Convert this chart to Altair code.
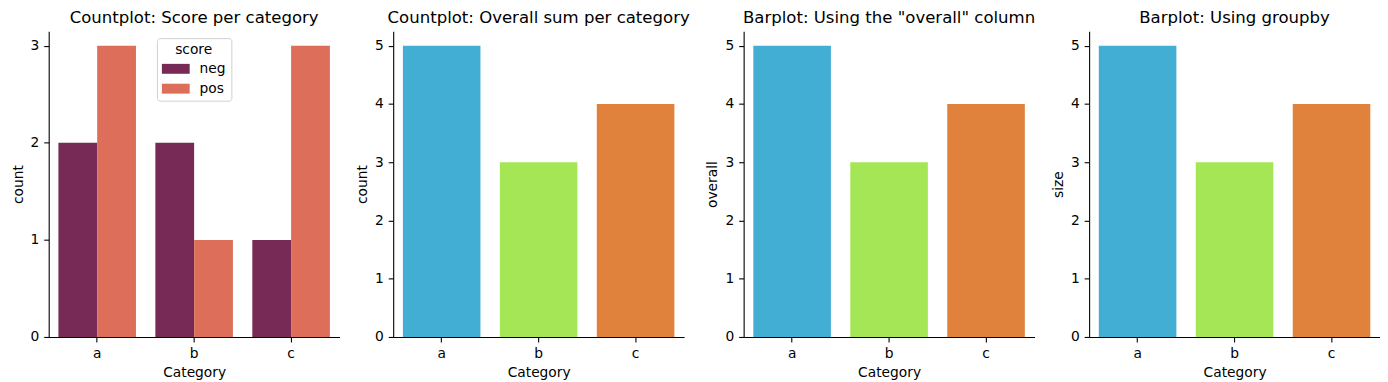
import altair as alt
import pandas as pd

categories = ["a", "b", "c"]
scores = ["neg", "pos"]
neg_counts = [2, 2, 1]
pos_counts = [3, 1, 3]
overall_sum = [5, 3, 4]
group_size = [5, 3, 4]

score_colors = ["#782A56", "#DD6E5A"]
cat_colors = ["#42AED4", "#A4E655", "#E0823B"]

FONT = "DejaVu Sans"
W, H = 293, 308

df1 = pd.DataFrame({
    "Category": categories * 2,
    "score": ["neg"] * 3 + ["pos"] * 3,
    "count": neg_counts + pos_counts,
})
df2 = pd.DataFrame({"Category": categories, "count": overall_sum})
df3 = pd.DataFrame({"Category": categories, "overall": overall_sum})
df4 = pd.DataFrame({"Category": categories, "size": group_size})

xband = alt.Scale(domain=categories, paddingInner=0.2, paddingOuter=0.1)

p1 = alt.Chart(df1).mark_bar().encode(
    x=alt.X("Category:N", scale=xband, axis=alt.Axis(labelAngle=0, title="Category")),
    xOffset=alt.XOffset("score:N", scale=alt.Scale(domain=scores, paddingInner=0, paddingOuter=0)),
    y=alt.Y("count:Q", scale=alt.Scale(domain=[0, 3.15], nice=False),
            axis=alt.Axis(values=[0, 1, 2, 3], title="count")),
    color=alt.Color("score:N", scale=alt.Scale(domain=scores, range=score_colors),
                    legend=alt.Legend(
                        orient="none", legendX=109, legendY=7, title="score",
                        titleAnchor="middle", titleFontWeight="normal",
                        titleFontSize=13.9, titleFont=FONT, titleColor="black",
                        labelFontSize=13.9, labelFont=FONT, labelColor="black",
                        symbolType="M-1,-0.714L3,-0.714L3,0.714L-1,0.714Z",
                        symbolSize=196, symbolStrokeWidth=0, labelOffset=24,
                        fillColor="white", strokeColor="#d0d0d0", cornerRadius=3,
                        padding=5, rowPadding=6, titlePadding=5,
                    )),
).properties(width=W, height=H, title="Countplot: Score per category")


def simple(df, field, title):
    return alt.Chart(df).mark_bar().encode(
        x=alt.X("Category:N", scale=xband, axis=alt.Axis(labelAngle=0, title="Category")),
        y=alt.Y(f"{field}:Q", scale=alt.Scale(domain=[0, 5.25], nice=False),
                axis=alt.Axis(values=[0, 1, 2, 3, 4, 5], title=field)),
        color=alt.Color("Category:N", scale=alt.Scale(domain=categories, range=cat_colors),
                        legend=None),
    ).properties(width=W, height=H, title=title)


p2 = simple(df2, "count", "Countplot: Overall sum per category")
p3 = simple(df3, "overall", 'Barplot: Using the "overall" column')
p4 = simple(df4, "size", "Barplot: Using groupby")

chart = alt.hconcat(p1, p2, p3, p4, spacing=16).resolve_scale(
    color="independent", y="independent", x="independent"
).properties(
    padding={"left": 3, "top": 0, "right": 0, "bottom": 0}
).configure_view(stroke=None).configure_axis(
    domainColor="black", tickColor="black", labelColor="black", titleColor="black",
    labelFont=FONT, titleFont=FONT, labelFontSize=13.9, titleFontSize=13.9,
    titleFontWeight="normal", tickSize=5, labelPadding=5, titlePadding=5,
    grid=False, domainWidth=1.1, tickWidth=1.1,
).configure_title(
    font=FONT, fontSize=16.67, fontWeight="normal", color="black", offset=5
)

chart.save("out.html", embed_options={"renderer": "svg", "actions": False})
